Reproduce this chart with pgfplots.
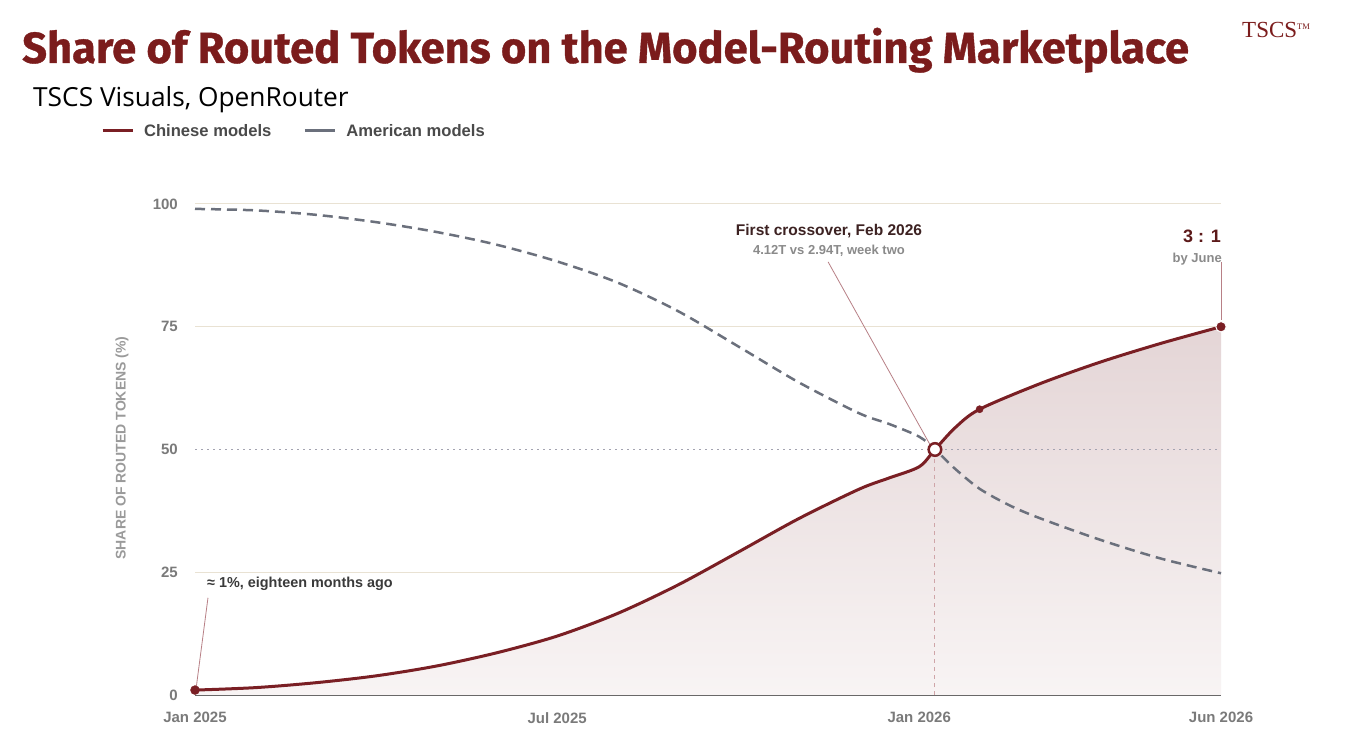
\documentclass[border=0pt]{standalone}
\usepackage{fontspec}
\usepackage{pgfplots}
\usepackage{pgfplotstable}
\pgfplotsset{compat=1.18}
\setmainfont{Liberation Sans}
\newfontfamily\titlefont[BoldFeatures={FakeBold=0.8}]{Fira Sans}
\newfontfamily\subfont{Open Sans}
\newfontfamily\logofont{Liberation Serif}
\definecolor{cnred}{HTML}{7A1F24}
\definecolor{titlered}{HTML}{7B1C1C}
\definecolor{usgray}{HTML}{6B707C}
\definecolor{tickgray}{HTML}{7A7A7A}
\definecolor{gridbeige}{HTML}{E9E2D3}
\definecolor{dotgray}{HTML}{A3A3B0}
\definecolor{vdash}{HTML}{CFA5A8}
\definecolor{axgray}{HTML}{555555}
\definecolor{legtext}{HTML}{4A4A4A}
\definecolor{ylabgray}{HTML}{9A9A9A}
\definecolor{annodark}{HTML}{3D2222}
\definecolor{annodarkb}{HTML}{3A3A3A}
\definecolor{subgray}{HTML}{8A8A8A}
\definecolor{ratiored}{HTML}{5C1A1A}
\definecolor{leadred}{HTML}{B88086}
\definecolor{fillTop}{HTML}{E4D5D6}
\definecolor{fillBot}{HTML}{F8F4F4}

\pgfplotstableread{
x y
0 1.0
1 1.5
2 2.5
3 3.9
4 5.9
5 8.6
6 12.0
7 16.6
8 22.4
9 29.1
10 35.9
11 41.9
11.5 44.2
12 46.5
12.26 50.0
12.6 54.5
13 58.2
14 63.4
15 67.8
16 71.6
17 75.0
}\chinese

\pgfplotstableread{
x y
0 99.0
1 98.7
2 97.8
3 96.3
4 94.3
5 91.7
6 88.3
7 84.0
8 78.2
9 71.0
10 63.7
11 57.4
11.5 55.2
12 52.6
12.26 50.0
12.6 46.0
13 42.0
13.5 38.6
14 36.0
15 31.6
16 27.8
17 24.8
}\american

\begin{document}
\begin{tikzpicture}[x=1bp,y=1bp]
\fill[white] (0,0) rectangle (1355,749);
\useasboundingbox (0,0) rectangle (1355,749);
\begin{axis}[
  at={(195bp,54bp)}, anchor=south west,
  width=1026bp, height=491bp, scale only axis,
  xmin=0, xmax=17, ymin=0, ymax=100,
  clip=false,
  axis x line*=bottom, axis y line*=left,
  x axis line style={draw=axgray, line width=1.5bp, -},
  y axis line style={draw=none},
  xtick={0,6,12,17},
  xticklabels={Jan 2025, Jul 2025, Jan 2026, Jun 2026},
  ytick={0,25,50,75,100},
  tick style={draw=none},
  major tick length=0pt,
  /pgf/number format/assume math mode=true,
  ticklabel style={font=\bfseries\fontsize{15bp}{18bp}\selectfont, text=tickgray},
  xticklabel style={anchor=north, inner sep=0pt, yshift=-17bp},
  yticklabel style={anchor=east, inner sep=0pt, xshift=-17bp},
  legend style={at={(axis description cs:-0.0917,1.1487)}, anchor=west,
    draw=none, fill=none, inner sep=0pt, legend columns=2,
    font=\bfseries\fontsize{16.6bp}{19bp}\selectfont, text=legtext,
    nodes={inner sep=0pt},
    /tikz/every odd column/.append style={column sep=10bp},
    /tikz/every even column/.append style={column sep=32bp}},
  legend image code/.code={\draw[#1] (0bp,0bp) -- (30bp,0bp);},
]
\addlegendimage{cnred, line width=3bp}
\addlegendentry{Chinese models}
\addlegendimage{usgray, line width=3bp}
\addlegendentry{American models}

% grid
\addplot[gridbeige, line width=1bp, forget plot] coordinates {(0,25) (17,25)};
\addplot[gridbeige, line width=1bp, forget plot] coordinates {(0,75) (17,75)};
\addplot[gridbeige, line width=1bp, forget plot] coordinates {(0,100) (17,100)};

% area under Chinese curve
\addplot[draw=none, top color=fillTop, bottom color=fillBot, smooth, tension=0.5, forget plot] table {\chinese} \closedcycle;

\addplot[dotgray, line width=1.5bp, dash pattern=on 2bp off 4bp, forget plot] coordinates {(0,50) (17,50)};
\addplot[vdash, line width=1bp, dash pattern=on 4bp off 4bp, forget plot] coordinates {(12.26,0) (12.26,50)};

% leader lines
\addplot[leadred, line width=0.8bp, forget plot] coordinates {(10.49,88.2) (12.2,50.5)};
\addplot[leadred, line width=1bp, forget plot] coordinates {(17,88.2) (17,76.3)};
\addplot[leadred, line width=0.8bp, forget plot] coordinates {(0.215,19.8) (0.02,1.5)};

% series
\addplot[usgray, line width=2.5bp, dash pattern=on 10bp off 6bp, smooth, tension=0.5, forget plot] table {\american};
\addplot[cnred, line width=3bp, smooth, tension=0.5, forget plot] table {\chinese};

% markers
\addplot[only marks, mark=*, mark size=4.5bp, mark options={fill=cnred, draw=cnred}, forget plot] coordinates {(0,1.0)};
\addplot[only marks, mark=*, mark size=3.6bp, mark options={fill=cnred, draw=cnred}, forget plot] coordinates {(13,58.2)};
\addplot[only marks, mark=*, mark size=5.2bp, mark options={fill=cnred, draw=white, line width=1bp}, forget plot] coordinates {(17,75)};
\addplot[only marks, mark=*, mark size=6.3bp, mark options={fill=white, draw=cnred, line width=2.5bp}, forget plot] coordinates {(12.26,50)};
\end{axis}

\node[anchor=base west, inner sep=0pt, text=titlered, font=\titlefont\bfseries\fontsize{43.5bp}{50bp}\selectfont] at (22,686) {Share of Routed Tokens on the Model-Routing Marketplace};
\node[anchor=base west, inner sep=0pt, text=black, font=\subfont\fontsize{26.3bp}{30bp}\selectfont] at (33,642) {TSCS Visuals, OpenRouter};
\node[anchor=base west, inner sep=0pt, text=titlered, font=\logofont\fontsize{23bp}{24bp}\selectfont] at (1242,711) {TSCS\raisebox{8bp}{\fontsize{8.5bp}{8.5bp}\selectfont TM}};

\node[rotate=90, inner sep=0pt, text=ylabgray, font=\bfseries\fontsize{14bp}{16bp}\selectfont] at (122,301) {SHARE OF ROUTED TOKENS (\%)};

\node[anchor=base, inner sep=0pt, text=annodark, font=\bfseries\fontsize{15.5bp}{18bp}\selectfont] at (829,513) {First crossover, Feb 2026};
\node[anchor=base, inner sep=0pt, text=subgray, font=\bfseries\fontsize{13bp}{15bp}\selectfont] at (829,494) {4.12T vs 2.94T, week two};
\node[anchor=base east, inner sep=0pt, text=ratiored, font=\bfseries\fontsize{18bp}{20bp}\selectfont] at (1221,506) {3 : 1};
\node[anchor=base east, inner sep=0pt, text=subgray, font=\bfseries\fontsize{13bp}{15bp}\selectfont] at (1222,486) {by June};
\node[anchor=base west, inner sep=0pt, text=annodarkb, font=\bfseries\fontsize{14.4bp}{17bp}\selectfont] at (207,161) {≈ 1\%, eighteen months ago};
\end{tikzpicture}
\end{document}
